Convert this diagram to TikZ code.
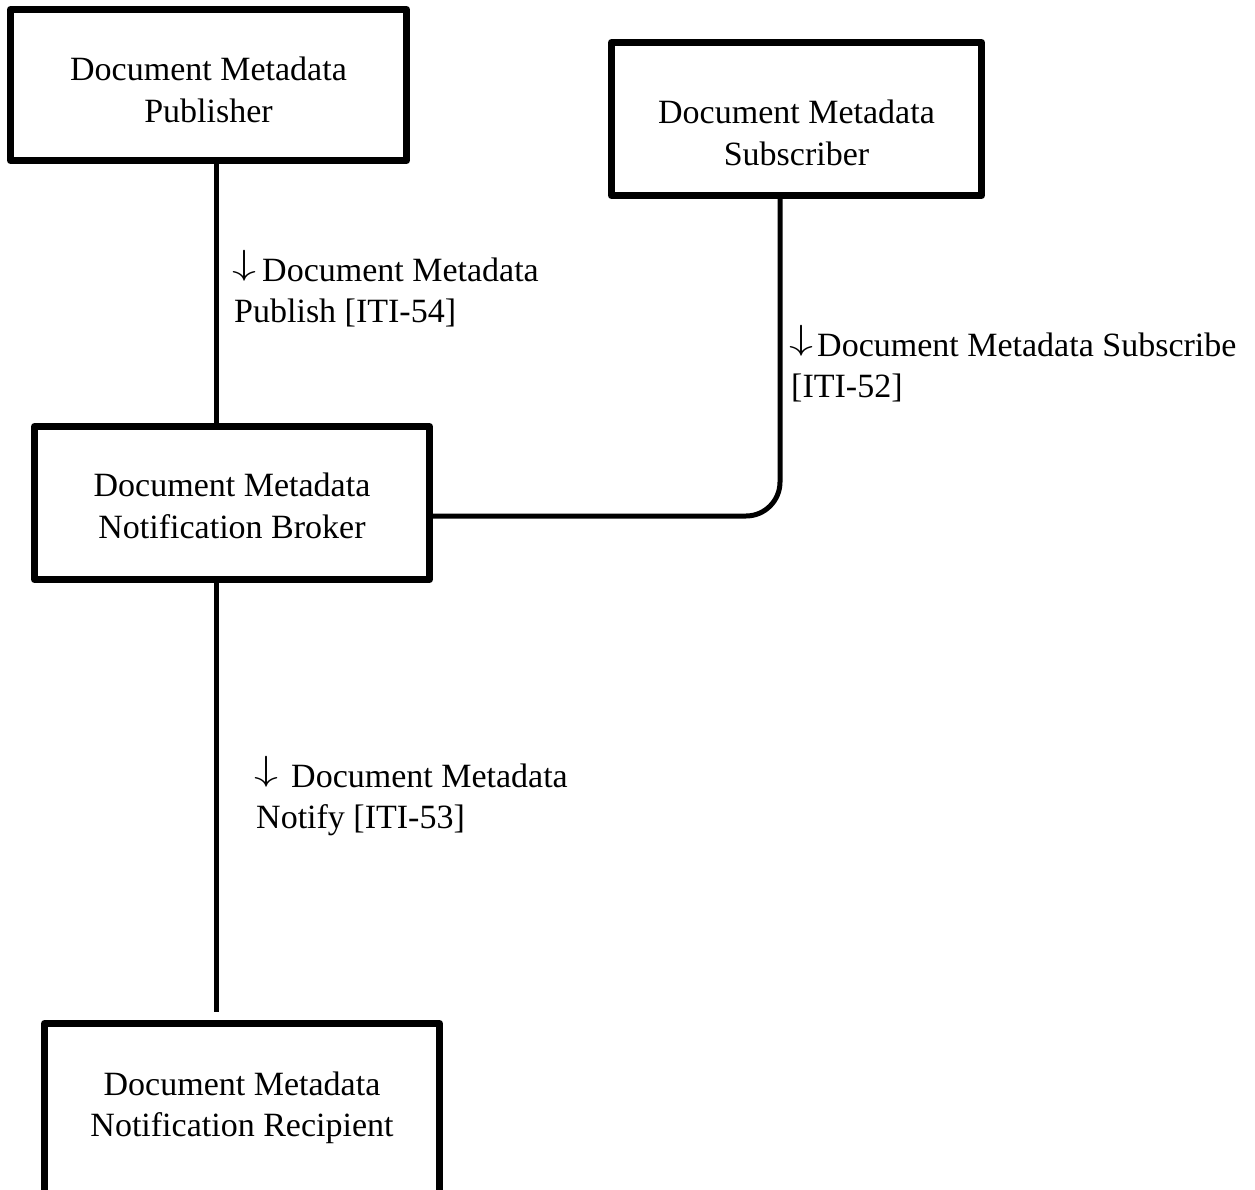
\documentclass[tikz,border=0pt]{standalone}
\usepackage{fontspec}
\usepackage{graphicx}
\setmainfont{Liberation Serif}
% thin down arrow, 31pt tall, standing on the baseline
\newcommand{\downarr}{\raisebox{6.8pt}{\resizebox*{24pt}{31pt}{$\downarrow$}}}
\begin{document}
\begin{tikzpicture}[x=1pt,y=-1pt,
  txt/.style={font=\fontsize{34}{41.5}\selectfont},
  box/.style={txt, draw=black, line width=7pt, line join=round, fill=white,
    inner sep=0pt, align=center},
  conn/.style={draw=black, line width=5pt},
  lbl/.style={txt, anchor=base west, inner sep=0pt}]
\useasboundingbox (0,0) rectangle (1255,1190);
\clip (0,0) rectangle (1255,1190);

% actors
\node[box, minimum width=396pt, minimum height=151pt] (pub) at (208.5,85)
  {\rule{0pt}{33.5pt}Document Metadata\\Publisher};
\node[box, minimum width=370pt, minimum height=153pt] (sub) at (796.5,119)
  {\rule{0pt}{51.5pt}Document Metadata\\Subscriber};
\node[box, minimum width=395pt, minimum height=153pt] (broker) at (232,503)
  {\rule{0pt}{29.5pt}Document Metadata\\Notification Broker};
\node[box, minimum width=395pt, minimum height=192pt] (rec) at (242,1119.5)
  {\rule{0pt}{29.5pt}Document Metadata\\\rule[-37pt]{0pt}{37pt}Notification Recipient};

% routing points for the connectors
\coordinate (trunk) at (216,0);
\coordinate (bend) at (780,516);

% transactions
\draw[conn] (pub.south -| trunk) -- (broker.north -| trunk);
\draw[conn, rounded corners=34pt] (sub.south -| bend) |- (broker.east |- bend);
\draw[conn, shorten >=8pt] (broker.south -| trunk) -- (rec.north -| trunk);

% transaction labels
\node[lbl] (lpub) at (232,281)
  {\begin{tabular}[t]{@{}l@{}}\downarr\hspace{6pt}Document Metadata\\\hspace{2pt}Publish [ITI-54]\end{tabular}};
\node[lbl] (lsub) at (789,356)
  {\begin{tabular}[t]{@{}l@{}}\downarr\hspace{4pt}Document Metadata Subscribe\\\hspace{2pt}[ITI-52]\end{tabular}};
\node[lbl] (lnot) at (254,787)
  {\begin{tabular}[t]{@{}l@{}}\downarr\hspace{13pt}Document Metadata\\\hspace{2pt}Notify [ITI-53]\end{tabular}};
\end{tikzpicture}
\end{document}
